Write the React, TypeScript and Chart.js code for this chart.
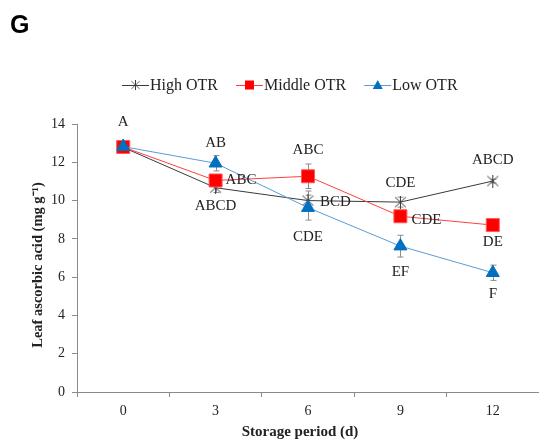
import React, { useEffect, useRef } from 'react';
import { Chart, registerables } from 'chart.js';

Chart.register(...registerables);

// ---- data ----
const categories = ['0', '3', '6', '9', '12'];
const yTicks = [0, 2, 4, 6, 8, 10, 12, 14];

const highOTR = [12.78, 10.67, 10.0, 9.92, 11.02];
const middleOTR = [12.8, 11.05, 11.27, 9.18, 8.72];
const lowOTR = [12.82, 11.95, 9.63, 7.62, 6.23];

const highErr = [0.1, 0.25, 0.5, 0.26, 0.1];
const middleErr = [0.1, 0.15, 0.64, 0.3, 0.15];
const lowErr = [0.1, 0.4, 0.65, 0.57, 0.4];

const seriesNames = ['Low OTR', 'Middle OTR', 'High OTR'];
const xTitle = 'Storage period (d)';
const yTitle = 'Leaf ascorbic acid (mg g\u207B\u00B9)';

// significance letters: text, series (0 low, 1 middle, 2 high), category index, placement, gap px
const letterText = ['A', 'AB', 'ABC', 'ABCD', 'ABC', 'BCD', 'CDE', 'CDE', 'CDE', 'EF', 'ABCD', 'DE', 'F'];
const letterSeries = [0, 0, 1, 2, 1, 2, 0, 2, 1, 0, 2, 1, 0];
const letterIndex = [0, 1, 1, 1, 2, 2, 2, 3, 3, 3, 4, 4, 4];
const letterPlace = ['above', 'above', 'right', 'below', 'above', 'right', 'below', 'above', 'right', 'below', 'above', 'below', 'below'];
const letterGap = [25, 20, 10, 18, 26, 12, 29, 19, 11, 26, 21, 17, 21];
const letterShift = [0, 0, -1, 0, 0, 0, 0, 0, 3, 0, 0, 0, 0];

const SERIF = '"Liberation Serif", "Times New Roman", serif';

function makeStar(size: number, color: string) {
  const c = document.createElement('canvas');
  c.width = size;
  c.height = size;
  const ctx = c.getContext('2d')!;
  const h = size / 2;
  ctx.strokeStyle = color;
  ctx.lineWidth = 1;
  ctx.beginPath();
  ctx.moveTo(1, 1.5);
  ctx.lineTo(size - 1, size - 1.5);
  ctx.moveTo(size - 1, 1.5);
  ctx.lineTo(1, size - 1.5);
  ctx.moveTo(h, 0);
  ctx.lineTo(h, size);
  ctx.stroke();
  return c;
}

export default function App() {
  const ref = useRef<HTMLCanvasElement | null>(null);

  useEffect(() => {
    const canvas = ref.current;
    if (!canvas) return;
    const star = makeStar(13, '#3a3a3a');
    const errs = [lowErr, middleErr, highErr];

    const errorBars = {
      id: 'errorBars',
      beforeDatasetsDraw(chart: any) {
        const ctx = chart.ctx;
        const ys = chart.scales.y;
        ctx.save();
        ctx.strokeStyle = '#8c8c8c';
        ctx.lineWidth = 1;
        [0, 1, 2].forEach((di) => {
          const meta = chart.getDatasetMeta(di);
          const vals = chart.data.datasets[di].data as number[];
          meta.data.forEach((pt: any, j: number) => {
            const x = Math.round(pt.x) + 0.5;
            const y1 = ys.getPixelForValue(vals[j] + errs[di][j]);
            const y2 = ys.getPixelForValue(vals[j] - errs[di][j]);
            ctx.beginPath();
            ctx.moveTo(x, y1);
            ctx.lineTo(x, y2);
            ctx.moveTo(x - 3, y1);
            ctx.lineTo(x + 3, y1);
            ctx.moveTo(x - 3, y2);
            ctx.lineTo(x + 3, y2);
            ctx.stroke();
          });
        });
        ctx.restore();
      },
    };

    const letters = {
      id: 'letters',
      afterDatasetsDraw(chart: any) {
        const ctx = chart.ctx;
        ctx.save();
        ctx.font = `15px ${SERIF}`;
        ctx.fillStyle = '#222';
        ctx.textBaseline = 'middle';
        letterText.forEach((t, k) => {
          const pt = chart.getDatasetMeta(letterSeries[k]).data[letterIndex[k]];
          const place = letterPlace[k];
          const g = letterGap[k];
          const s = letterShift[k];
          if (place === 'above') {
            ctx.textAlign = 'center';
            ctx.fillText(t, pt.x, pt.y - g + s);
          } else if (place === 'below') {
            ctx.textAlign = 'center';
            ctx.fillText(t, pt.x, pt.y + g + s);
          } else {
            ctx.textAlign = 'left';
            ctx.fillText(t, pt.x + g, pt.y + 1 + s);
          }
        });
        ctx.restore();
      },
    };

    const decor = {
      id: 'decor',
      afterDraw(chart: any) {
        const ctx = chart.ctx;
        const area = chart.chartArea;
        ctx.save();
        // panel letter
        ctx.font = 'bold 25px "Liberation Sans", Arial, sans-serif';
        ctx.fillStyle = '#000';
        ctx.textAlign = 'left';
        ctx.textBaseline = 'alphabetic';
        ctx.fillText('G', 10, 33);

        // y axis title
        ctx.save();
        ctx.translate(38, (area.top + area.bottom) / 2 + 7);
        ctx.rotate(-Math.PI / 2);
        ctx.font = `bold 14.5px ${SERIF}`;
        ctx.fillStyle = '#222';
        ctx.textAlign = 'center';
        ctx.textBaseline = 'middle';
        ctx.fillText(yTitle, 0, 0);
        ctx.restore();

        // x axis title
        ctx.font = `bold 15px ${SERIF}`;
        ctx.fillStyle = '#222';
        ctx.textAlign = 'center';
        ctx.textBaseline = 'middle';
        ctx.fillText(xTitle, 300, 432);

        // legend
        const cy = 85;
        let x = 122;
        const lineLen = 27;
        ctx.font = `16px ${SERIF}`;
        ctx.textBaseline = 'middle';
        const order = [2, 1, 0];
        const colors = ['#5b9bd5', '#ff4040', '#3a3a3a'];
        order.forEach((di) => {
          ctx.strokeStyle = colors[di];
          ctx.lineWidth = 1;
          ctx.beginPath();
          ctx.moveTo(x, cy + 0.5);
          ctx.lineTo(x + lineLen, cy + 0.5);
          ctx.stroke();
          const mx = x + lineLen / 2;
          if (di === 2) {
            ctx.drawImage(star, mx - 5, cy - 5, 10, 10);
          } else if (di === 1) {
            ctx.fillStyle = '#ff0000';
            ctx.fillRect(mx - 4.5, cy - 4.5, 9, 9);
          } else {
            ctx.fillStyle = '#0070c0';
            ctx.beginPath();
            ctx.moveTo(mx, cy - 5);
            ctx.lineTo(mx + 5, cy + 4);
            ctx.lineTo(mx - 5, cy + 4);
            ctx.closePath();
            ctx.fill();
          }
          ctx.fillStyle = '#222';
          ctx.textAlign = 'left';
          const tx = x + lineLen + 1;
          ctx.fillText(seriesNames[di], tx, cy + 1);
          x = tx + ctx.measureText(seriesNames[di]).width + 18;
        });
        ctx.restore();
      },
    };

    const chart = new Chart(canvas, {
      type: 'line',
      data: {
        labels: categories,
        datasets: [
          {
            label: seriesNames[0],
            data: lowOTR,
            borderColor: '#5b9bd5',
            borderWidth: 1,
            pointStyle: 'triangle',
            pointRadius: 7.5,
            pointBackgroundColor: '#0070c0',
            pointBorderColor: '#0070c0',
            pointBorderWidth: 1,
            order: 0,
          },
          {
            label: seriesNames[1],
            data: middleOTR,
            borderColor: '#ff4040',
            borderWidth: 1,
            pointStyle: 'rect',
            pointRadius: 9.2,
            pointBackgroundColor: '#ff0000',
            pointBorderColor: '#ff5a5a',
            pointBorderWidth: 1,
            order: 1,
          },
          {
            label: seriesNames[2],
            data: highOTR,
            borderColor: '#3a3a3a',
            borderWidth: 1,
            pointStyle: star as any,
            pointRadius: 6,
            order: 2,
          },
        ],
      },
      options: {
        responsive: false,
        animation: false,
        layout: { autoPadding: false, padding: { top: 124, right: 0, left: 0, bottom: 0 } },
        plugins: { legend: { display: false }, tooltip: { enabled: false } },
        scales: {
          x: {
            type: 'category',
            offset: true,
            grid: { display: true, drawOnChartArea: false, offset: true, tickLength: 5, color: '#8a8a8a' },
            border: { color: '#8a8a8a' },
            ticks: { font: { family: SERIF, size: 14 }, color: '#222', padding: 6 },
            title: { display: false },
            afterFit: (s: any) => {
              s.height = 52;
              s.paddingLeft = 0;
              s.paddingRight = 0;
            },
          },
          y: {
            min: 0,
            max: 14,
            grid: { display: true, drawOnChartArea: false, tickLength: 5, color: '#8a8a8a' },
            border: { color: '#8a8a8a' },
            ticks: { font: { family: SERIF, size: 14 }, color: '#222', padding: 7 },
            afterBuildTicks: (s: any) => {
              s.ticks = yTicks.map((v) => ({ value: v }));
            },
            title: { display: false },
            afterFit: (s: any) => {
              s.width = 77;
              s.paddingTop = 0;
              s.paddingBottom = 0;
            },
          },
        },
      } as any,
      plugins: [errorBars, letters, decor],
    });
    return () => chart.destroy();
  }, []);

  return (
    <div style={{ position: 'absolute', left: 0, top: 0, width: 539, height: 444, background: '#fff' }}>
      <canvas ref={ref} width={539} height={444} style={{ display: 'block' }} />
    </div>
  );
}
